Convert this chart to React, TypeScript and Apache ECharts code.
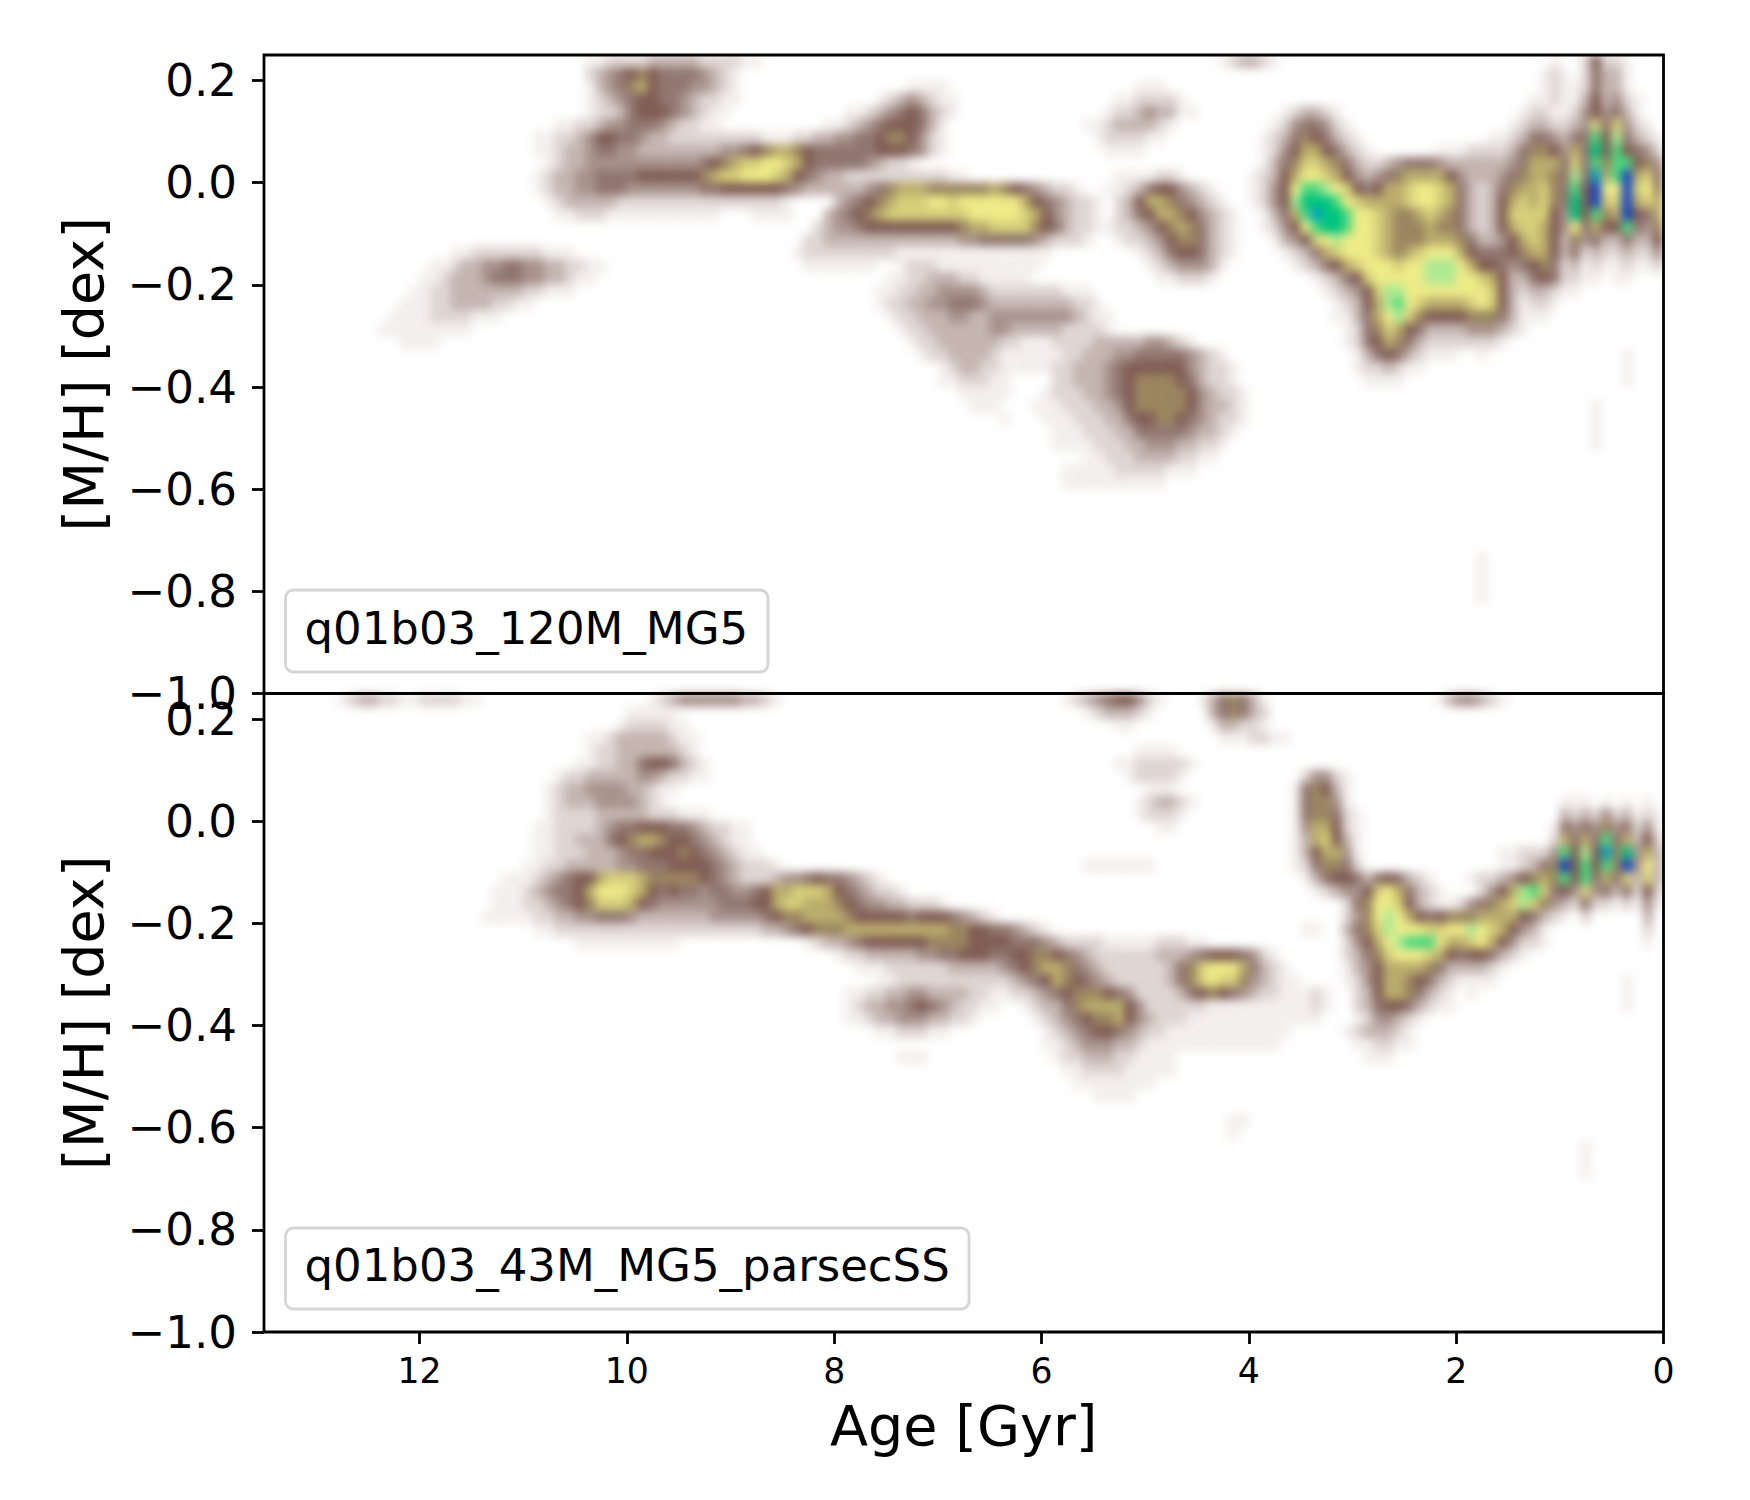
import React, { useEffect, useRef } from "react";
import * as echarts from "echarts";

// Density levels per row, top row first (row 0 = [M/H] 0.2375, step 0.025 dex).
// Each run is "startAge:levels", levels are hex digits, one per 0.1 Gyr going to younger ages.
const topRows = [
  "10.4:11222233333222211 4.3:123321 1.1:1 0.8:262 0.5:21",
  "10.4:234567655554321 1.2:121 0.8:253 0.5:31",
  "10.4:134578655544321 7.3:1111 5.1:111 1.2:121 0.9:1 0.8:253 0.5:31",
  "10.4:123456655432211 7.6:12343211 5.3:1122221 1.3:1121 0.9:1 0.8:363 0.5:421",
  "10.4:12235666543211 7.9:11234565321 5.4:122343311 3.7:123321 1.4:122112464531",
  "10.7:1122344555432211 8.1:112345666531 5.6:112333321 3.8:12455421 1.5:12332234959421",
  "10.9:112234665543322222222211 8.6:11223344556776421 5.5:1222211 3.9:1235765321 1.7:1123554355c6b5321",
  "10.9:112334554433333333 4456788765 55555 6665421 5.4:1111 3.9:12468865321 2.2:111 2222 3 5 7 7 6 4 8 5 d 6 c 6 5 4 2",
  "10.8:123344444444444567899aa9865555543221 3.9:1357998753223 45554 333333 45 888 5 95c7cc674",
  "10.9:1233445555 666666 7899aaa9865433 2222222222 11 5.3:1111221 4.0:12368aa986 4345788886 4333457887 5b5e8cf895",
  "10.9:1233445554 444444 55 666666 54 3333 7.9:33457888777777876543221 5.4:11235664321 4.0:1246accba9 656889aa98 5323578897 5c6faaf9a7",
  "10.8:1233333222222222222222 21 8.0:3456 7899 9aa9 aaaa aa86 5432 21 5.3:23688754321 4.0:1246bdddca 988889aa98 5323689897 5d6f99f898",
  "10.7:1122211111111111 8.8:1111 8.1:345678 99999999 aaaaa 986432 21 5.3:235688764321 3.9:1358ceddca a987789875 3236999964 d6c78f658",
  "8.2:23445 666666666 788 9999 7653221 5.4:1223467875321 3.9:1246acddca a987778775 3236899864 a5866c547",
  "8.3:22 3333333333333 44 55555 432221 5.3:122346775321 3.8:13469abaaa 9877788875 334689863 745335336",
  "11.7:112222222111 8.4:1222222222 111111111111111 5.1:1235665321 3.7:123589aaa9 8789aaa865 55678863 523223224",
  "11.9:11233445544332211 8.3:1111111 7.4:1222111111 1111 5.0:12344431 3.6:1235689aaa 9aabbba866 5456752 312112112",
  "12.0:11233345554433211 7.5:11223332211111 4.9:112221 3.4:123569aaaa abbbaa9863 35652211 0.5:11",
  "12.1:1122333333322111 7.6:1122334444 32 222222 111 3.3:123469bbaa aaaaaa 963233211",
  "12.2:1112233332211 7.6:1223344555 43 3333333 221 3.2:12368bca98 888 9a96312 21",
  "12.3:11112222111 7.5:1223334433 44444444 3211 3.2:11358ab976 66677753111",
  "12.4:111111111 7.4:122 333333 44 33333 22221 3.1:125798653333444321",
  "12.2:1111 7.3:122 333333 22 111 22 22 33 33344 321 3.1:12568753 2222222 1",
  "7.2:12233332 111111 22 33 3 44 5555 54321 3.0:1356532111 1.8:1 0.4:1",
  "7.0:123322 11111 22 333 4 5 6 666 66 4 3 22 1 3.0:1223211 0.4:1",
  "7.0:1122211 5.9:22333 4 5 6 7777 6 5 3 22 1 2.9:1111 0.4:1",
  "6.8:11111 6.0:1222 33 4 5 6 77777 6 4 3 22 1",
  "6.7:111 6.1:111222334 6 77777 6 4 33 2 1 0.7:1",
  "6.4:1 6.0:11122233566776543221 0.7:1",
  "5.9:11122233 55555 4 33 21 0.7:1",
  "5.9:1111 222 33 444 33 22 1 0.7:1",
  "5.6:11222333322 11",
  "5.8:11111 22222 111",
  "5.8:1111111111",
  "", "", "", "", "",
  "1.8:1", "1.8:1", "1.8:1", "1.8:1",
  "", "", "", "", "", "", "",
];

const bottomRows = [
  "12.8:12332211222211 9.8:1234444443321 5.8:1234566421 4.5:1357531 2.2:1344321",
  "10.0:11111 5.6:1233321 4.4:357532",
  "10.1:1222211 5.3:11 4.4:133221",
  "10.4:11233333211 4.3:1112211",
  "10.4:12233333321 5.1:1111",
  "10.5:1122335665321 5.3:11222221",
  "10.7:122333334432211 5.2:122221 3.5:24421",
  "10.8:1233444433211 5.0:111 3.6:157631",
  "10.8:123334444321 5.1:123321 3.6:157741 1.0:11 0.8:1 0.6:1 0.4:1 0.2:1",
  "10.8:1222233333222111 5.1:12221 3.6:1577521 1.0:3232423121",
  "10.9:112222345566655432211 4.9:11 3.6:1488621 1.1:15454745241",
  "10.9:112233356788766543211 3.6:1389631 1.1:28585c58362",
  "10.9:1122233345566676543211 3.6:1368841 1.6:112224c6b6e7d483",
  "11.0:1122 33333 44 555 6666 5 4 3 222 1 5.6:1111111 3.6:1257752 1.6:1123 57f6c6c7f4a3",
  "11.2:111 2 3 4 5 66 8 999 8 77777 6 5 4 3 222 3 44 5 6 55 4 3 2 1 3.5:1356653565321 1.9:122346787c6c5859393",
  "11.3:1112345568aaa986565545544568899986543221 3.4:1234469a85321 1.8:2468bc956494535262",
  "11.3:11122345679998654444445556689988876544332221 3.1:257aa96321 2.1:1245789b9743252212141",
  "11.4:11111 22 33 44 555 4 3333333 44444 5 6 77 8888 7 66666 5 666 5 4 3 2 1 3.1:247aba8 65 6 777 8888 6 5 3 2 1 0.8:2 0.2:3",
  "10.9:11 22222222222222222222 33 4 5 6 777 8888888888 77 66 5 5 4 3 2 1 3.5:11 3.1:3579baaa99aaba986431 0.2:2",
  "10.5:1111111111 8.3:1 2 33 4 5 666666 7777 6666 555 4 3 222211111222 11 3.1:2468abccca889a864221 0.2:1",
  "8.0:122 33333 44 55 666 55 66 77 6 5 4 3 222222 333 4 5 666 5 4 2 1 3.1:2357 9aaa 9865 6653 21",
  "7.8:111 222222 33333 4 5 6 7 88 7 5 4 3 222222 3 5 7 9 aaa 8 5 3 2 1 3.1:1346888875333321",
  "7.6:11 22222222222 3 4 5 6 8 7 6 5 4 3 22222 3 5 7 9 a 99 7 4 3 2 11 3.1:124688765321111 0.4:1",
  "7.9:11223344333322 11 22 3 4 5 6 777 6 5 4 2222 3 5 6 7 6 5 4 3 22 11 3.5:121 3.0:2368875321 1.9:1 0.4:1",
  "7.9:123344565432211 6.2:1233578888 6 4 22222 2 111111 111 3.5:121 3.0:2356653211 0.4:1",
  "7.9:1123344433221 6.1:1234567786 43 22211111111 111 3.5:11 3.0:1244321",
  "7.6:1122211 6.0:1234566 54 3 22 111111111 1 11 3.1:1233321",
  "6.0:1123444332 1111111111111 3.0:112211",
  "7.4:111 5.9:122333221111 2.9:111",
  "5.8:11222211111",
  "5.7:11111111",
  "5.5:1111",
  "",
  "4.2:11",
  "4.2:1",
  "0.8:1",
  "0.8:1",
  "0.8:1",
  "", "", "", "", "", "", "", "", "", "", "", "",
];

const levelColors = [
  "#ffffff", "#f3efee", "#dfd6d3", "#c4b5b0", "#a8928c", "#917670", "#7f5c54", "#9b8560",
  "#bbac6c", "#d6cf7a", "#eeeb88", "#aeea93", "#4ed87e", "#00c47e", "#009fc4", "#1040c0",
];

const yTicks = [-1, -0.8, -0.6, -0.4, -0.2, 0, 0.2];
const xTicks = [0, 2, 4, 6, 8, 10, 12];
const legendTop = "q01b03_120M_MG5";
const legendBottom = "q01b03_43M_MG5_parsecSS";
const xName = "Age [Gyr]";
const yName = "[M/H] [dex]";

const ageCount = 135;
const rowCount = 50;
const ageCats = Array.from({ length: ageCount }, (_, i) => (13.45 - i * 0.1).toFixed(2));
const mhCats = Array.from({ length: rowCount }, (_, j) => (0.2375 - j * 0.025).toFixed(4));

function buildCells(rows: string[]) {
  const cells = new Map<string, number>();
  rows.forEach((row, j) => {
    let col = 0;
    row.split(/\s+/).filter(Boolean).forEach((token) => {
      let digits = token;
      if (token.includes(":")) {
        const [age, rest] = token.split(":");
        col = Math.round((13.5 - parseFloat(age)) * 10);
        digits = rest;
      }
      for (const ch of digits) {
        const level = parseInt(ch, 16);
        const key = col + "," + j;
        if (level > 0 && col >= 0 && col < ageCount) {
          cells.set(key, Math.max(cells.get(key) ?? 0, level));
        }
        col += 1;
      }
    });
  });
  return Array.from(cells.entries()).map(([key, level]) => {
    const [c, r] = key.split(",").map(Number);
    return [c, r, level];
  });
}

const FONT = "DejaVu Sans";
const LEFT = 264;
const WIDTH = 1399.5;
const TOP1 = 55;
const PH = 638.5;
const TOP2 = TOP1 + PH;

export default function App() {
  const heatRef = useRef<HTMLDivElement>(null);
  const axesRef = useRef<HTMLDivElement>(null);

  useEffect(() => {
    const heat = echarts.init(heatRef.current!, null, { renderer: "svg" });
    const grids = [
      { left: LEFT, top: TOP1, width: WIDTH, height: PH },
      { left: LEFT, top: TOP2, width: WIDTH, height: PH },
    ];
    heat.setOption({
      animation: false,
      grid: grids,
      xAxis: [0, 1].map((g) => ({ type: "category", gridIndex: g, data: ageCats, show: false })),
      yAxis: [0, 1].map((g) => ({ type: "category", gridIndex: g, data: mhCats, inverse: true, show: false })),
      visualMap: {
        show: false,
        type: "continuous",
        min: 0,
        max: 15,
        dimension: 2,
        seriesIndex: [0, 1],
        inRange: { color: levelColors },
      },
      series: [topRows, bottomRows].map((rows, g) => ({
        type: "heatmap",
        xAxisIndex: g,
        yAxisIndex: g,
        progressive: 0,
        data: buildCells(rows),
        itemStyle: { borderWidth: 0 },
        emphasis: { disabled: true },
      })),
    });

    const axes = echarts.init(axesRef.current!, null, { renderer: "svg" });
    const yAxisOf = (g: number) => ({
      type: "value",
      gridIndex: g,
      position: "left",
      min: -1,
      max: 0.25,
      name: yName,
      nameLocation: "middle",
      nameRotate: 90,
      nameGap: 153,
      nameTextStyle: { fontFamily: FONT, fontSize: 55.6, color: "#000" },
      axisLine: { show: false, onZero: false },
      splitLine: { show: false },
      axisTick: { show: true, length: 12, lineStyle: { color: "#000", width: 2.8 }, customValues: yTicks },
      axisLabel: {
        show: true,
        fontFamily: FONT,
        fontSize: 45.1,
        color: "#000",
        margin: 27,
        customValues: yTicks,
        formatter: (v: number) => v.toFixed(1).replace("-", "\u2212"),
      },
    });
    const legend = (text: string, x: number, y: number, w: number, h: number) => [
      {
        type: "rect",
        z: 50,
        shape: { x, y, width: w, height: h, r: 8 },
        style: { fill: "rgba(255,255,255,0.8)", stroke: "#d5d5d5", lineWidth: 2.8 },
      },
      {
        type: "text",
        z: 51,
        x: x + 19,
        y: y + h / 2 - 3,
        style: { text, fontFamily: FONT, fontSize: 45, fill: "#000", textVerticalAlign: "middle", textAlign: "left" },
      },
    ];
    axes.setOption({
      animation: false,
      grid: grids.map((g) => ({
        ...g,
        show: true,
        borderColor: "#000",
        borderWidth: 2.8,
        backgroundColor: "transparent",
      })),
      xAxis: [
        {
          type: "value",
          gridIndex: 0,
          position: "bottom",
          min: 0,
          max: 13.5,
          inverse: true,
          axisLine: { show: false, onZero: false },
          axisTick: { show: false },
          axisLabel: { show: false },
          splitLine: { show: false },
        },
        {
          type: "value",
          gridIndex: 1,
          position: "bottom",
          min: 0,
          max: 13.5,
          inverse: true,
          name: xName,
          nameLocation: "middle",
          nameGap: 65,
          nameTextStyle: { fontFamily: FONT, fontSize: 55.6, color: "#000" },
          axisLine: { show: false, onZero: false },
          splitLine: { show: false },
          axisTick: { show: true, length: 12, lineStyle: { color: "#000", width: 2.8 }, customValues: xTicks },
          axisLabel: {
            show: true,
            fontFamily: FONT,
            fontSize: 34.7,
            color: "#000",
            margin: 21,
            customValues: xTicks,
          },
        },
      ],
      yAxis: [yAxisOf(0), yAxisOf(1)],
      graphic: {
        elements: [
          ...legend(legendTop, 285.5, 590, 482.5, 82),
          ...legend(legendBottom, 285.5, 1228, 683.5, 81),
        ],
      },
      series: [
        { type: "line", xAxisIndex: 0, yAxisIndex: 0, data: [] },
        { type: "line", xAxisIndex: 1, yAxisIndex: 1, data: [] },
      ],
    });

    return () => {
      heat.dispose();
      axes.dispose();
    };
  }, []);

  return (
    <div style={{ position: "absolute", left: 0, top: 0, width: 1750, height: 1500, background: "#fff", overflow: "hidden" }}>
      <div style={{ position: "absolute", left: LEFT, top: TOP1, width: WIDTH, height: 2 * PH, overflow: "hidden" }}>
        <div
          ref={heatRef}
          style={{ position: "absolute", left: -LEFT, top: -TOP1, width: 1750, height: 1500, filter: "blur(5px)" }}
        />
      </div>
      <div ref={axesRef} style={{ position: "absolute", left: 0, top: 0, width: 1750, height: 1500 }} />
    </div>
  );
}
